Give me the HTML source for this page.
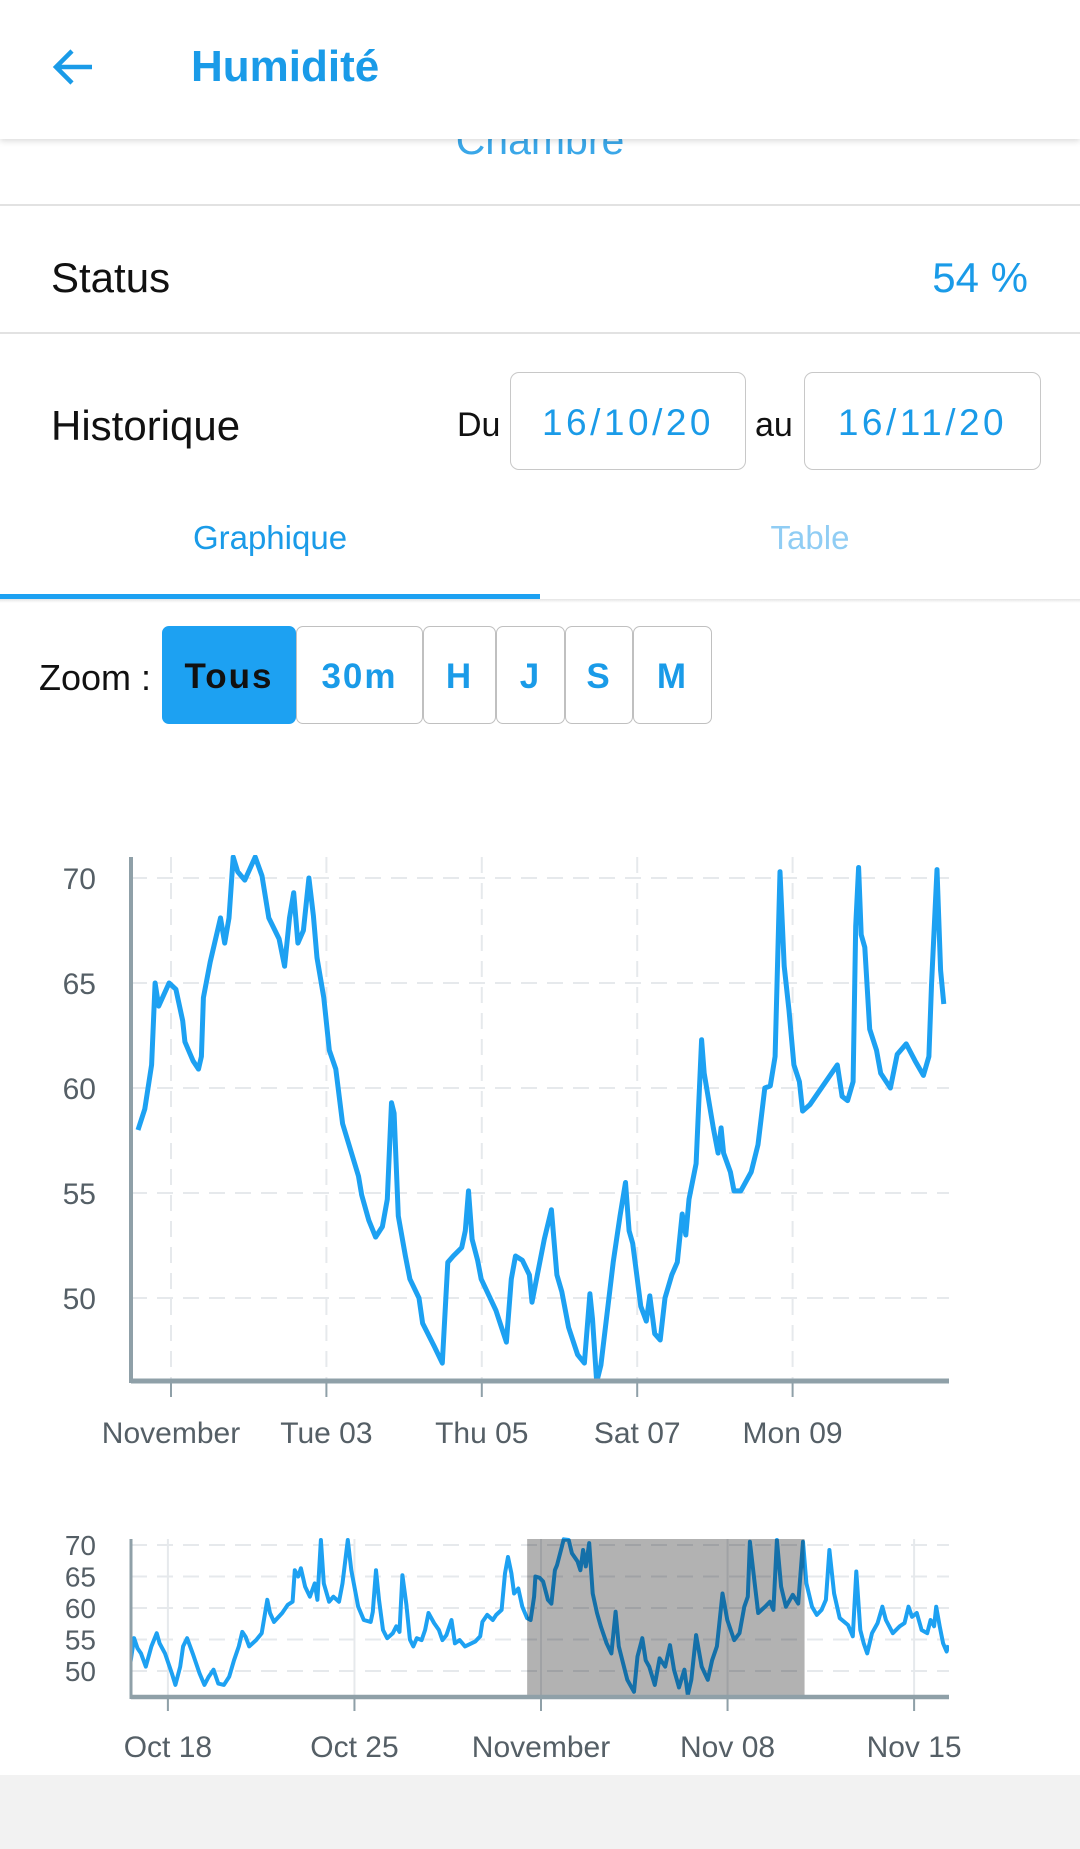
<!DOCTYPE html>
<html><head><meta charset="utf-8">
<style>
*{margin:0;padding:0;box-sizing:border-box}
body{width:1080px;height:1849px;position:relative;background:#fff;font-family:"Liberation Sans",sans-serif;overflow:hidden}
.abs{position:absolute}
.header{left:0;top:0;width:1080px;height:139px;background:#fff;box-shadow:0 2px 6px rgba(0,0,0,0.15);z-index:5}
.title{left:191px;top:42px;font-size:44px;font-weight:bold;color:#1a9be8}
.lbl{font-size:42px;color:#111}
.box{border:1.5px solid #c8c8c8;border-radius:9px;font-size:37px;color:#1a9be8;letter-spacing:3.5px;display:flex;align-items:center;justify-content:center}
.btn{top:626px;height:98px;border:1.5px solid #c0c0c0;border-radius:7px;font-size:35px;color:#1a9be8;display:flex;align-items:center;justify-content:center;letter-spacing:2px;font-weight:bold}
</style></head><body>
<div class="abs header">
  <svg class="abs" style="left:50px;top:44px" width="46" height="46" viewBox="0 0 46 46"><path d="M42 23H8M22 7L6 23l16 16" stroke="#1a9be8" stroke-width="4.5" fill="none"/></svg>
  <div class="abs title">Humidité</div>
</div>
<div class="abs" style="left:0;top:117px;width:1080px;text-align:center;font-size:41px;color:#3aa7e8">Chambre</div>
<div class="abs" style="left:0;top:204px;width:1080px;height:1.5px;background:#e2e2e2"></div>
<div class="abs lbl" style="left:51px;top:254px">Status</div>
<div class="abs" style="right:52px;top:254px;font-size:42px;color:#1a9be8">54 %</div>
<div class="abs" style="left:0;top:332px;width:1080px;height:1.5px;background:#e2e2e2"></div>
<div class="abs lbl" style="left:51px;top:402px">Historique</div>
<div class="abs" style="left:457px;top:406px;font-size:34px;color:#111">Du</div>
<div class="abs box" style="left:510px;top:372px;width:236px;height:98px;padding-top:4px">16/10/20</div>
<div class="abs" style="left:755px;top:406px;font-size:34px;color:#111">au</div>
<div class="abs box" style="left:804px;top:372px;width:237px;height:98px;padding-top:4px">16/11/20</div>
<div class="abs" style="left:0;top:519px;width:540px;text-align:center;font-size:33px;color:#1a9be8">Graphique</div>
<div class="abs" style="left:540px;top:519px;width:540px;text-align:center;font-size:33px;color:#90cdf4">Table</div>
<div class="abs" style="left:0;top:594px;width:540px;height:5px;background:#1da1f2"></div>
<div class="abs" style="left:0;top:599px;width:1080px;height:4px;background:linear-gradient(rgba(0,0,0,0.1),rgba(0,0,0,0))"></div>
<div class="abs" style="left:39px;top:657px;font-size:36px;color:#111">Zoom :</div>
<div class="abs btn" style="left:162px;width:134px;background:#1da1f2;border-color:#1da1f2;color:#111;padding-top:4px">Tous</div>
<div class="abs btn" style="left:296px;width:127px;padding-top:4px">30m</div>
<div class="abs btn" style="left:423px;width:73px;padding-top:4px">H</div>
<div class="abs btn" style="left:496px;width:69px;padding-top:4px">J</div>
<div class="abs btn" style="left:565px;width:68px;padding-top:4px">S</div>
<div class="abs btn" style="left:633px;width:79px;padding-top:4px">M</div>
<svg class="abs" style="left:0;top:0" width="1080" height="1849" id="chart"></svg>
<div class="abs" style="left:0;top:1775px;width:1080px;height:74px;background:#f2f2f2"></div>
<script>
// main chart data: hours since Nov 1 00:00, humidity %
const mainHours=[-10.2,-8.1,-6.0,-4.9,-3.8,-0.6,1.5,3.6,4.3,6.8,8.5,9.4,10.0,12.1,15.3,16.6,17.9,19.2,20.6,22.8,26.0,28.1,30.2,33.4,35.1,36.6,37.9,39.2,40.9,42.6,44.0,45.1,47.2,48.9,50.9,53.0,57.9,58.9,61.1,63.2,65.3,66.8,68.1,68.9,70.2,72.4,73.8,76.6,77.7,81.3,83.8,85.5,87.2,89.8,90.9,91.9,93.0,94.7,95.8,100.4,102.1,103.6,105.1,106.4,108.5,110.7,111.5,115.3,117.5,119.2,120.7,122.8,125.6,127.7,129.4,130.2,131.5,132.8,136.6,138.7,140.4,141.5,142.6,145.1,146.8,147.9,149.4,151.1,152.6,154.7,156.4,157.9,159.0,160.0,162.2,163.9,164.7,167.5,169.0,169.9,170.7,172.8,173.9,176.0,179.2,181.3,183.4,185.1,186.6,188.1,189.4,190.9,192.4,194.1,195.1,197.3,205.8,207.3,209.0,210.7,211.5,212.4,213.2,214.3,215.8,217.9,219.2,222.2,224.3,227.1,229.8,232.4,234.1,234.9,236.6,237.7,238.7];
const mainValues=[58.0,59.0,61.1,65.0,63.9,65.0,64.7,63.2,62.2,61.3,60.9,61.5,64.3,66.0,68.1,66.9,68.1,71.0,70.3,69.9,71.0,70.1,68.1,67.1,65.8,68.1,69.3,66.9,67.5,70.0,68.2,66.2,64.3,61.8,60.9,58.3,55.8,54.9,53.7,52.9,53.4,54.7,59.3,58.8,53.9,52.0,50.9,50.0,48.8,47.7,46.9,51.7,52.0,52.4,53.2,55.1,52.8,51.8,50.9,49.4,48.6,47.9,50.9,52.0,51.8,51.1,49.8,52.8,54.2,51.1,50.3,48.6,47.3,46.9,50.2,49.0,46.0,46.8,51.7,53.9,55.5,53.2,52.6,49.6,48.9,50.1,48.3,48.0,50.0,51.1,51.7,54.0,53.0,54.7,56.4,62.3,60.7,58.1,56.9,58.1,56.9,56.0,55.1,55.1,56.0,57.3,60.0,60.1,61.5,70.3,65.8,63.7,61.1,60.3,58.9,59.2,61.1,59.6,59.4,60.3,67.7,70.5,67.3,66.7,62.8,61.8,60.7,60.0,61.6,62.1,61.3,60.6,61.5,64.9,70.4,65.6,64.0];
const mainYTicks=[50,55,60,65,70];
const mainXTickHours=[0,48,96,144,192];
const mainXTickLabels=["November","Tue 03","Thu 05","Sat 07","Mon 09"];
// navigator data: days since Nov 1
const navDays=[-15.40,-15.27,-15.14,-15.01,-14.83,-14.62,-14.42,-14.31,-14.11,-13.85,-13.72,-13.54,-13.43,-13.28,-13.07,-12.81,-12.63,-12.47,-12.29,-12.11,-11.90,-11.70,-11.52,-11.34,-11.21,-11.08,-10.95,-10.69,-10.48,-10.27,-10.17,-10.02,-9.71,-9.50,-9.32,-9.24,-9.11,-9.01,-8.85,-8.67,-8.49,-8.39,-8.26,-8.15,-7.95,-7.79,-7.58,-7.45,-7.25,-7.12,-6.86,-6.65,-6.39,-6.31,-6.19,-6.08,-5.93,-5.77,-5.56,-5.43,-5.31,-5.20,-5.05,-4.92,-4.79,-4.66,-4.48,-4.35,-4.22,-4.01,-3.83,-3.70,-3.55,-3.36,-3.23,-3.05,-2.85,-2.46,-2.28,-2.20,-2.02,-1.81,-1.68,-1.48,-1.35,-1.24,-1.11,-1.01,-0.85,-0.70,-0.52,-0.39,-0.26,-0.21,-0.05,0.08,0.26,0.39,0.52,0.60,0.78,0.85,1.04,1.16,1.37,1.48,1.58,1.68,1.81,1.94,2.10,2.25,2.46,2.64,2.80,2.92,3.08,3.24,3.49,3.62,3.80,3.93,4.06,4.27,4.45,4.66,4.84,4.99,5.18,5.38,5.51,5.64,5.82,6.03,6.26,6.42,6.60,6.81,6.99,7.12,7.25,7.45,7.63,7.76,7.84,8.02,8.15,8.41,8.59,8.72,8.85,9.01,9.19,9.45,9.65,9.83,9.96,10.17,10.35,10.53,10.69,10.82,11.00,11.21,11.52,11.70,11.83,11.98,12.11,12.24,12.42,12.63,12.81,12.94,13.20,13.46,13.64,13.79,13.92,14.10,14.28,14.49,14.62,14.75,14.83,14.96,15.09,15.22,15.29];
const navValues=[51.5,55.2,53.6,52.8,50.7,53.9,56.0,54.4,52.8,49.6,47.8,50.7,53.9,55.2,52.8,49.6,47.8,49.1,50.2,48.0,47.8,49.1,51.7,53.9,56.2,55.4,53.9,54.9,56.0,61.3,59.2,57.8,59.2,60.5,61.0,66.0,65.0,66.3,63.4,61.8,63.9,61.3,70.8,63.9,61.0,61.8,61.0,63.9,70.8,66.0,60.2,58.1,57.8,59.4,66.0,61.3,56.5,55.2,56.0,57.1,56.2,65.2,60.5,55.0,53.9,55.2,54.9,56.5,59.2,57.6,56.5,54.9,55.7,58.1,54.4,54.9,53.9,54.7,55.5,57.8,58.9,58.1,58.9,59.7,65.5,68.1,65.5,62.3,63.1,60.2,58.4,58.1,61.8,65.0,64.8,64.2,61.3,60.7,66.0,66.8,69.7,70.9,70.8,68.7,67.4,66.0,69.2,66.6,70.3,62.3,59.2,57.0,54.4,52.8,59.4,53.9,51.2,48.6,46.7,52.3,55.2,51.7,50.7,47.8,52.0,50.7,54.1,50.2,47.4,50.2,46.2,48.6,55.7,50.7,48.6,51.7,53.9,62.3,58.1,56.5,54.9,56.0,60.2,61.8,70.5,63.9,59.2,60.2,61.0,59.7,70.8,63.4,60.2,62.1,60.7,70.5,63.9,60.2,58.9,59.7,61.3,69.2,62.3,58.4,57.3,55.5,65.8,56.5,54.4,52.8,56.0,57.6,60.2,58.1,56.0,57.1,57.6,60.2,58.6,59.2,56.5,56.0,58.1,57.1,60.2,57.1,54.4,53.1,54.1];
const navYTicks=[50,55,60,65,70];
const navXTickDays=[-14,-7,0,7,14];
const navXTickLabels=["Oct 18","Oct 25","November","Nov 08","Nov 15"];
const navSelection=[-0.52,9.89];

const NS="http://www.w3.org/2000/svg";
const svg=document.getElementById('chart');
function mk(tag,attrs,parent){const e=document.createElementNS(NS,tag);for(const k in attrs)e.setAttribute(k,attrs[k]);(parent||svg).appendChild(e);return e;}
const mx=h=>171+h/24*77.7;
const my=v=>1298-(v-50)*21;
const L=131,R=949,T=857,B=1381;
mainYTicks.forEach(v=>{const g=mk('line',{x1:L,x2:R,y1:my(v),y2:my(v),stroke:'#e6e9ec','stroke-width':2,'stroke-dasharray':'16,10'});


const t=mk('text',{x:96,y:my(v)+11,'text-anchor':'end','font-size':30,fill:'#555f66','font-family':'Liberation Sans, sans-serif'});t.textContent=v;

});
mainXTickHours.forEach((h,i)=>{const g=mk('line',{x1:mx(h),x2:mx(h),y1:T,y2:B,stroke:'#e6e9ec','stroke-width':2,'stroke-dasharray':'16,10'});


const tk=mk('line',{x1:mx(h),x2:mx(h),y1:B,y2:B+16,stroke:'#8fa0a8','stroke-width':2});


const t=mk('text',{x:mx(h),y:1443,'text-anchor':'middle','font-size':30,fill:'#555f66','font-family':'Liberation Sans, sans-serif'});t.textContent=mainXTickLabels[i];

});
mk('clipPath',{id:'mc'});mk('rect',{x:L,y:T-2,width:R-L,height:B-T+2},svg.lastChild);
const mp=mk('path',{d:mainHours.map((h,i)=>(i?'L':'M')+mx(h).toFixed(1)+','+my(mainValues[i]).toFixed(1)).join(''),fill:'none',stroke:'#1da1f2','stroke-width':5,'stroke-linejoin':'round','clip-path':'url(#mc)'});


const ya=mk('line',{x1:L,x2:L,y1:T,y2:B+2,stroke:'#8fa0a8','stroke-width':4});


const xa=mk('line',{x1:L,x2:R,y1:B,y2:B,stroke:'#8fa0a8','stroke-width':5});


const nx=d=>541+d*26.65;
const ny=v=>1671-(v-50)*6.3;
const NT=1539,NB=1697;
navYTicks.forEach(v=>{const g=mk('line',{x1:L,x2:R,y1:ny(v),y2:ny(v),stroke:'#e6e9ec','stroke-width':2,'stroke-dasharray':'16,10'});


const t=mk('text',{x:96,y:ny(v)+10,'text-anchor':'end','font-size':28,fill:'#555f66','font-family':'Liberation Sans, sans-serif'});t.textContent=v;

});
navXTickDays.forEach((d,i)=>{const g=mk('line',{x1:nx(d),x2:nx(d),y1:NT,y2:NB+14,stroke:'#e6e9ec','stroke-width':2});


const tk=mk('line',{x1:nx(d),x2:nx(d),y1:NB,y2:NB+14,stroke:'#8fa0a8','stroke-width':2});


const t=mk('text',{x:nx(d),y:1757,'text-anchor':'middle','font-size':30,fill:'#555f66','font-family':'Liberation Sans, sans-serif'});t.textContent=navXTickLabels[i];

});
mk('clipPath',{id:'nc'});mk('rect',{x:L,y:NT-2,width:R-L,height:NB-NT+2},svg.lastChild);
const np=mk('path',{d:navDays.map((d,i)=>(i?'L':'M')+nx(d).toFixed(1)+','+ny(navValues[i]).toFixed(1)).join(''),fill:'none',stroke:'#1da1f2','stroke-width':4,'stroke-linejoin':'round','clip-path':'url(#nc)'});


const sel=mk('rect',{x:nx(navSelection[0]),y:NT,width:nx(navSelection[1])-nx(navSelection[0]),height:NB-NT,fill:'rgba(0,0,0,0.3)'});


const nya=mk('line',{x1:L,x2:L,y1:NT,y2:NB+2,stroke:'#8fa0a8','stroke-width':3});


const nxa=mk('line',{x1:L,x2:R,y1:NB,y2:NB,stroke:'#8fa0a8','stroke-width':4.5});


</script>
</body></html>
